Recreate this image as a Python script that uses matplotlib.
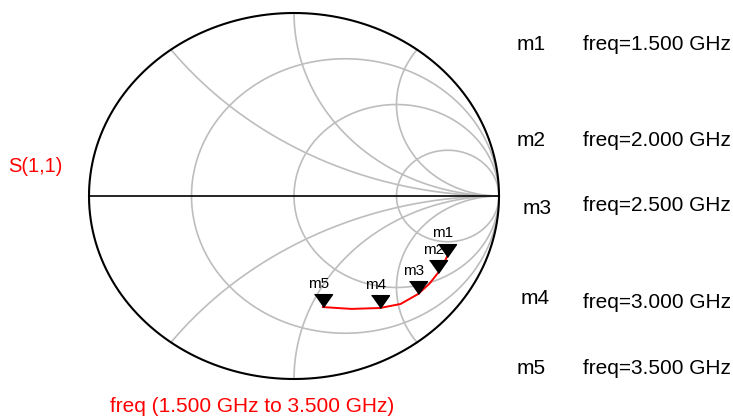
import numpy as np
import matplotlib
matplotlib.use('Agg')
import matplotlib.pyplot as plt

plt.rcParams['font.family'] = ['Liberation Sans', 'DejaVu Sans']

freq_ghz = [1.50, 1.75, 2.00, 2.25, 2.50, 2.75, 3.00, 3.25, 3.50]
gamma_re = [0.746, 0.725, 0.702, 0.660, 0.605, 0.520, 0.420, 0.280, 0.141]
gamma_im = [-0.333, -0.380, -0.421, -0.480, -0.536, -0.590, -0.612, -0.617, -0.607]

# markers
marker_names = ['m1', 'm2', 'm3', 'm4', 'm5']
marker_freqs = [1.5, 2.0, 2.5, 3.0, 3.5]

# smith grid
r_circles = [1 / 3, 1, 3]
x_arcs = [0.5, 1, 2]

fig = plt.figure(figsize=(7.33, 4.17), dpi=100)
ax = fig.add_axes([89 / 733, 38 / 417, 410 / 733, 366 / 417])
ax.set_xlim(-1, 1)
ax.set_ylim(-1, 1)
ax.axis('off')

grid_kw = dict(color='#BDBDBD', lw=1.2, zorder=1)

# constant resistance circles
xs = np.concatenate([-np.logspace(3, -3, 400), np.logspace(-3, 3, 400)])
for r in r_circles:
    g = (r + 1j * xs - 1) / (r + 1j * xs + 1)
    ax.plot(g.real, g.imag, **grid_kw)

# constant reactance arcs
rs = np.concatenate([[0], np.logspace(-3, 3, 600)])
for x in x_arcs:
    for sgn in (1, -1):
        g = (rs + 1j * sgn * x - 1) / (rs + 1j * sgn * x + 1)
        ax.plot(g.real, g.imag, **grid_kw)

# outline + real axis
t = np.linspace(0, 2 * np.pi, 600)
ax.plot(np.cos(t), np.sin(t), color='black', lw=1.5, zorder=2, clip_on=False)
ax.plot([-1, 1], [0, 0], color='black', lw=1.2, zorder=2)

# trace
ax.plot(gamma_re, gamma_im, color='red', lw=1.4, zorder=3)

tri = [(-0.7, 1), (0.7, 1), (0, 0)]
for name, f in zip(marker_names, marker_freqs):
    i = freq_ghz.index(f)
    ax.plot(gamma_re[i], gamma_im[i], marker=tri, markersize=18.5,
            color='black', zorder=4, linestyle='none')
    ax.annotate(name, (gamma_re[i], gamma_im[i]), xytext=(-3, 14),
                textcoords='offset points', ha='center', va='baseline',
                fontsize=11, zorder=5)

# marker readout on the right
name_x = [517, 517, 523, 521, 517]
name_y = [44, 140, 208, 298, 368]
readout_y = [44, 140, 205, 302, 368]
for name, f, nx, ny, y in zip(marker_names, marker_freqs, name_x, name_y, readout_y):
    fig.text(nx / 733, 1 - ny / 417, name, fontsize=15, va='center')
    fig.text(583 / 733, 1 - y / 417, 'freq=%.3f GHz' % f, fontsize=15, va='center')

fig.text(8 / 733, 1 - 167 / 417, 'S(1,1)', color='red', fontsize=14.5, va='center')
fig.text(252 / 733, 1 - 406 / 417,
         'freq (%.3f GHz to %.3f GHz)' % (freq_ghz[0], freq_ghz[-1]),
         color='red', fontsize=15, ha='center', va='center')

fig.savefig('out.png', dpi=100)
